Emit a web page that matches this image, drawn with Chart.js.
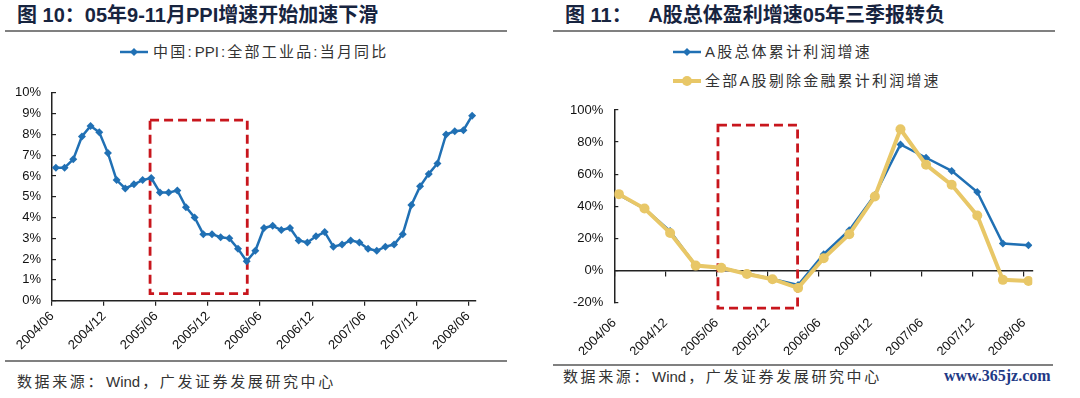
<!DOCTYPE html>
<html>
<head>
<meta charset="utf-8">
<script src="https://cdn.jsdelivr.net/npm/chart.js@4.4.1/dist/chart.umd.min.js"></script>
<style>
  body { margin: 0; width: 1080px; height: 398px; background: #fff; position: relative; overflow: hidden;
         font-family: "Liberation Sans", Arial, "Noto Sans CJK SC", sans-serif; }
  .abs { position: absolute; white-space: pre; }
  .title { font-size: 20px; font-weight: bold; color: #17243f; line-height: 24px; }
  .rule { position: absolute; height: 2px; background: #808080; }
  .leg { position: absolute; white-space: nowrap; font-size: 15px; letter-spacing: 2.2px; color: #333; line-height: 20px; }
  .src { font-size: 15px; letter-spacing: 2.6px; color: #333; line-height: 20px; }
  .lat { letter-spacing: 0; margin: 0 2px 0 1px; }
  canvas { position: absolute; }
</style>
</head>
<body>
<div class="abs title" style="left:17px;top:3px">图 10：05年9-11月PPI增速开始加速下滑</div>
<div class="abs title" style="left:565px;top:3px">图 11：   A股总体盈利增速05年三季报转负</div>
<div class="rule" style="left:5px;top:30px;width:502px"></div>
<div class="rule" style="left:553px;top:30px;width:502px"></div>

<div class="leg" style="left:120px;top:42px"><svg width="28" height="12" style="vertical-align:-1px"><line x1="0" y1="6" x2="28" y2="6" stroke="#2070b4" stroke-width="2.5"/><path d="M14 2 L18 6 L14 10 L10 6 Z" fill="#2070b4"/></svg><span style="margin-left:5px">中国:<span class="lat">PPI</span>:全部工业品:当月同比</span></div>
<div class="leg" style="left:673px;top:42px"><svg width="28" height="12" style="vertical-align:-1px"><line x1="0" y1="6" x2="28" y2="6" stroke="#2070b4" stroke-width="2.5"/><path d="M14 2 L18 6 L14 10 L10 6 Z" fill="#2070b4"/></svg><span style="margin-left:4px">A股总体累计利润增速</span></div>
<div class="leg" style="left:673px;top:71px"><svg width="28" height="12" style="vertical-align:-1px"><line x1="0" y1="6" x2="28" y2="6" stroke="#e8c767" stroke-width="4"/><circle cx="14" cy="6" r="5" fill="#e8c767"/></svg><span style="margin-left:4px">全部A股剔除金融累计利润增速</span></div>

<canvas id="ppiChart" width="500" height="285" style="left:0;top:70px"></canvas>
<canvas id="profitChart" width="507" height="285" style="left:548px;top:70px"></canvas>

<div class="rule" style="left:5px;top:360px;width:502px"></div>
<div class="rule" style="left:553px;top:364px;width:500px"></div>
<div class="abs src" style="left:17px;top:372px">数据来源：<span class="lat">Wind</span>，广发证券发展研究中心</div>
<div class="abs src" style="left:563px;top:367px">数据来源：<span class="lat">Wind</span>，广发证券发展研究中心</div>
<div class="abs" style="left:944px;top:366px;font:bold 16px 'Liberation Serif',serif;line-height:20px;color:#1f3a86">www.365jz.com</div>

<script>
// PPI monthly, 2004/06 - 2008/06
const ppiTicks = ['2004/06','2004/12','2005/06','2005/12','2006/06','2006/12','2007/06','2007/12','2008/06'];
const ppi = [6.4,6.4,6.8,7.9,8.4,8.1,7.1,5.8,5.4,5.6,
             5.8,5.9,5.2,5.2,5.3,4.5,4.0,3.2,3.2,3.05,
             3.0,2.5,1.9,2.4,3.5,3.6,3.4,3.5,2.9,2.8,
             3.1,3.3,2.6,2.7,2.9,2.8,2.5,2.4,2.6,2.7,
             3.2,4.6,5.5,6.1,6.6,8.0,8.15,8.2,8.9];

// A-share cumulative profit growth, quarterly 2004/06 - 2008/06
const profitTicks = ['2004/06','2004/12','2005/06','2005/12','2006/06','2006/12','2007/06','2007/12','2008/06'];
const aShareTotal = [47,38.5,24.5,3,1.5,-2,-5.5,-9.2,10,25,47,78.5,70.2,62,48.8,16.7,15.6];
const aShareExFin = [47.5,38.5,23.3,2.9,1.5,-2.3,-5.6,-11,7.5,22.5,46,88,65.8,53.3,34.2,-6,-6.7];

// highlighted windows [x from, x to, y top, y bottom] in data units
const ppiBox = [10.86, 22.07, 8.69, 0.34];
const profitBox = [3.87, 6.98, 90.5, -23.6];

const BLUE = '#2070b4', GOLD = '#e8c767', AXIS = '#222';
const tickFont = { family: 'Liberation Sans', size: 13 };

const dashBox = {
  id: 'dashBox',
  beforeDatasetsDraw(chart, args, opts) {
    const { ctx, scales: { x, y } } = chart;
    const [a, b, t, btm] = opts.box;
    const x0 = x.getPixelForValue(a), x1 = x.getPixelForValue(b);
    const y0 = y.getPixelForValue(t), y1 = y.getPixelForValue(btm);
    ctx.save();
    ctx.strokeStyle = '#c8161d';
    ctx.lineWidth = 2.8;
    ctx.setLineDash([9, 5]);
    ctx.strokeRect(x0, y0, x1 - x0, y1 - y0);
    ctx.restore();
  }
};

const pts = arr => arr.map((v, i) => ({ x: i, y: v }));

// left: PPI
new Chart(document.getElementById('ppiChart'), {
  type: 'line',
  data: {
    datasets: [{
      data: pts(ppi),
      borderColor: BLUE,
      backgroundColor: BLUE,
      borderWidth: 2.5,
      pointStyle: 'rectRot',
      pointRadius: 4,
      pointBorderWidth: 0,
      tension: 0
    }]
  },
  options: {
    responsive: false,
    animation: false,
    layout: { padding: { top: 14, right: 24, left: 0, bottom: 0 } },
    plugins: { legend: { display: false }, tooltip: { enabled: false }, dashBox: { box: ppiBox } },
    scales: {
      x: {
        type: 'linear', min: -0.45, max: 48.45,
        afterBuildTicks: s => { s.ticks = ppiTicks.map((_, k) => ({ value: k * 6 - 0.45 })); },
        afterFit: s => { s.height = 54.3; },
        border: { color: AXIS, width: 1.5 },
        grid: { drawOnChartArea: false, color: AXIS, lineWidth: 1.2, tickLength: 5 },
        ticks: { callback: (v, i) => ppiTicks[i], autoSkip: false, minRotation: 45, maxRotation: 45,
                 font: tickFont, color: '#111', padding: 3 }
      },
      y: {
        min: 0, max: 10,
        afterFit: s => { s.width = 52; },
        border: { color: AXIS, width: 1.5 },
        grid: { drawOnChartArea: false, color: AXIS, lineWidth: 1.2, tickLength: -4 },
        ticks: { stepSize: 1, callback: v => v + '%', font: tickFont, color: '#111', padding: 15 }
      }
    }
  },
  plugins: [dashBox]
});

// right: profit growth
new Chart(document.getElementById('profitChart'), {
  type: 'line',
  data: {
    datasets: [{
      data: pts(aShareExFin),
      borderColor: GOLD,
      backgroundColor: GOLD,
      borderWidth: 4,
      pointStyle: 'circle',
      pointRadius: 5,
      pointBorderWidth: 0,
      tension: 0,
      order: 0
    }, {
      data: pts(aShareTotal),
      borderColor: BLUE,
      backgroundColor: BLUE,
      borderWidth: 2.5,
      pointStyle: 'rectRot',
      pointRadius: 4,
      pointBorderWidth: 0,
      tension: 0,
      order: 1
    }]
  },
  options: {
    responsive: false,
    animation: false,
    layout: { padding: { top: 40, right: 22.7, left: 0, bottom: 0 } },
    plugins: { legend: { display: false }, tooltip: { enabled: false }, dashBox: { box: profitBox } },
    scales: {
      x: {
        type: 'linear', min: -0.18, max: 16.15,
        afterBuildTicks: s => { s.ticks = profitTicks.map((_, k) => ({ value: k * 2 - 0.18 })); },
        afterFit: s => { s.height = 52.7; },
        border: { display: false },
        grid: { display: false, drawTicks: false },
        ticks: { callback: (v, i) => profitTicks[i], autoSkip: false, minRotation: 45, maxRotation: 45,
                 font: tickFont, color: '#111', padding: 13 }
      },
      x0: {
        type: 'linear', axis: 'x', position: { y: 0 }, min: -0.18, max: 16.15,
        afterBuildTicks: s => { s.ticks = profitTicks.map((_, k) => ({ value: k * 2 - 0.18 })); },
        border: { color: AXIS, width: 1.5 },
        grid: { drawOnChartArea: false, color: AXIS, lineWidth: 1.2, tickLength: 5 },
        ticks: { display: false }
      },
      y: {
        min: -20, max: 100,
        afterFit: s => { s.width = 66.3; },
        border: { color: AXIS, width: 1.5 },
        grid: { drawOnChartArea: false, color: AXIS, lineWidth: 1.2, tickLength: -4 },
        ticks: { stepSize: 20, callback: v => v + '%', font: tickFont, color: '#111', padding: 15 }
      }
    }
  },
  plugins: [dashBox]
});
</script>
</body>
</html>
